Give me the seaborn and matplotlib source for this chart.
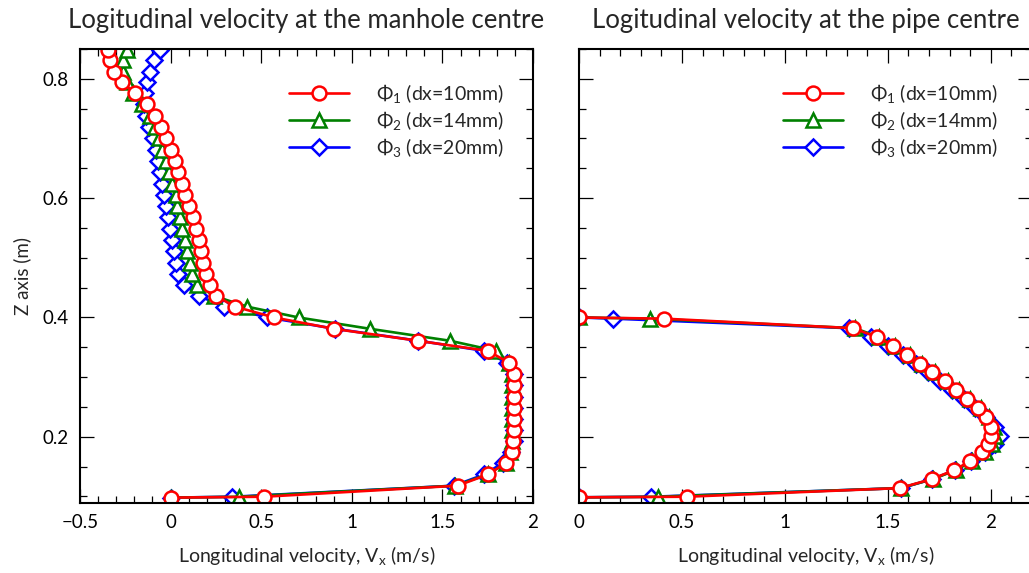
import matplotlib
matplotlib.use("Agg")
import matplotlib.pyplot as plt
import seaborn as sns
from matplotlib.ticker import MultipleLocator, FuncFormatter

# ---------------------------------------------------------------------------
# Data: vertical profiles of longitudinal velocity Vx (m/s) against height Z (m)
# ---------------------------------------------------------------------------
series_names = ["Φ$_1$ (dx=10mm)", "Φ$_2$ (dx=14mm)", "Φ$_3$ (dx=20mm)"]
series_colors = ["#ff0000", "#008000", "#0000ff"]
series_markers = ["o", "^", "D"]

# Manhole centre
z_manhole = [0.098, 0.0995, 0.118, 0.137, 0.156, 0.174, 0.193, 0.211, 0.229,
             0.249, 0.267, 0.286, 0.305, 0.324, 0.344, 0.361, 0.381, 0.400,
             0.418, 0.436, 0.455, 0.473, 0.492, 0.511, 0.530, 0.549, 0.568,
             0.587, 0.605, 0.624, 0.643, 0.662, 0.681, 0.700, 0.719, 0.738,
             0.757, 0.776, 0.795, 0.811, 0.831, 0.849, 0.868]
vx_manhole_phi1 = [0.0, 0.516, 1.584, 1.753, 1.850, 1.882, 1.888, 1.893, 1.893,
                   1.893, 1.893, 1.893, 1.893, 1.870, 1.750, 1.363, 0.900, 0.571,
                   0.357, 0.250, 0.217, 0.195, 0.181, 0.166, 0.155, 0.138, 0.122,
                   0.101, 0.081, 0.062, 0.040, 0.022, 0.000, -0.024, -0.051, -0.085,
                   -0.133, -0.199, -0.267, -0.313, -0.335, -0.344, -0.350]
vx_manhole_phi2 = [0.0, 0.377, 1.570, 1.750, 1.850, 1.875, 1.883, 1.884, 1.884,
                   1.884, 1.884, 1.884, 1.883, 1.870, 1.796, 1.541, 1.100, 0.706,
                   0.424, 0.240, 0.147, 0.120, 0.107, 0.092, 0.077, 0.064, 0.052,
                   0.037, 0.028, 0.009, -0.009, -0.028, -0.046, -0.065, -0.085, -0.115,
                   -0.160, -0.205, -0.240, -0.260, -0.262, -0.242, -0.220]
vx_manhole_phi3 = [0.0, 0.341, 1.565, 1.731, 1.833, 1.880, 1.895, 1.896, 1.896,
                   1.896, 1.896, 1.896, 1.895, 1.856, 1.731, 1.368, 0.908, 0.534,
                   0.295, 0.157, 0.074, 0.040, 0.028, 0.017, 0.006, -0.006, -0.017,
                   -0.028, -0.035, -0.048, -0.060, -0.072, -0.083, -0.098, -0.118, -0.135,
                   -0.148, -0.142, -0.130, -0.115, -0.090, -0.058, -0.030]

# Pipe centre
z_pipe = [0.0985, 0.0995, 0.114, 0.129, 0.144, 0.159, 0.174, 0.188, 0.202, 0.217,
          0.233, 0.248, 0.264, 0.279, 0.293, 0.308, 0.322, 0.337, 0.353, 0.367,
          0.382, 0.398, 0.400]
vx_pipe_phi1 = [0.0, 0.523, 1.558, 1.712, 1.822, 1.898, 1.958, 1.987, 2.003, 2.000,
                1.979, 1.938, 1.885, 1.833, 1.777, 1.715, 1.655, 1.594, 1.523, 1.448,
                1.332, 0.414, 0.0]
vx_pipe_phi2 = [0.0, 0.385, 1.562, 1.718, 1.830, 1.908, 1.970, 2.005, 2.022, 2.015,
                1.992, 1.950, 1.898, 1.846, 1.790, 1.728, 1.668, 1.606, 1.535, 1.458,
                1.340, 0.345, 0.0]
vx_pipe_phi3 = [0.0, 0.350, 1.566, 1.715, 1.825, 1.906, 1.970, 2.020, 2.044, 2.020,
                1.975, 1.925, 1.868, 1.812, 1.755, 1.695, 1.635, 1.572, 1.500, 1.420,
                1.312, 0.167, 0.0]

panel_titles = ["Logitudinal velocity at the manhole centre",
                "Logitudinal velocity at the pipe centre"]
x_label = "Longitudinal velocity, V$_\\mathrm{x}$ (m/s)"
y_label = "Z axis (m)"

# ---------------------------------------------------------------------------
# Style
# ---------------------------------------------------------------------------
sns.set_theme(style="ticks")
FONT = "Lato"
plt.rcParams["font.family"] = [FONT, "DejaVu Sans"]
plt.rcParams["mathtext.fontset"] = "custom"
plt.rcParams["mathtext.rm"] = FONT
plt.rcParams["mathtext.it"] = FONT + ":italic"
plt.rcParams["mathtext.bf"] = FONT + ":bold"

W, H = 1029, 573
fig = plt.figure(figsize=(W / 100, H / 100), dpi=100)
ax_l = fig.add_axes([80 / W, 70 / H, 453 / W, 454 / H])
ax_r = fig.add_axes([579 / W, 70 / H, 453 / W, 454 / H])

marker_sizes = {"o": 10, "^": 9.5, "D": 8.4}


def draw_panel(ax, z, profiles):
    # coarse resolutions first so the finest one sits on top
    handles = {}
    for name, color, marker, vx in reversed(list(zip(series_names, series_colors,
                                                     series_markers, profiles))):
        sns.lineplot(x=vx, y=z, ax=ax, sort=False, estimator=None,
                     color=color, linewidth=1.9, marker=marker,
                     markersize=marker_sizes[marker], markerfacecolor="white",
                     markeredgecolor=color, markeredgewidth=1.8, label=name)
        handles[name] = ax.lines[-1]
    return [handles[n] for n in series_names]


h_l = draw_panel(ax_l, z_manhole, [vx_manhole_phi1, vx_manhole_phi2, vx_manhole_phi3])
h_r = draw_panel(ax_r, z_pipe, [vx_pipe_phi1, vx_pipe_phi2, vx_pipe_phi3])

ax_l.set_xlim(-0.5, 2.0)
ax_r.set_xlim(0.0, 2.2)
for ax in (ax_l, ax_r):
    ax.set_ylim(0.089, 0.850)
    ax.xaxis.set_major_locator(MultipleLocator(0.5))
    ax.xaxis.set_minor_locator(MultipleLocator(0.1))
    ax.yaxis.set_major_locator(MultipleLocator(0.2))
    ax.yaxis.set_minor_locator(MultipleLocator(0.05))
    ax.tick_params(which="both", direction="in", top=True, right=True,
                   color="black", labelcolor="black")
    ax.tick_params(which="major", length=10, width=0.9, labelsize=13.5, pad=8)
    ax.tick_params(which="minor", length=5, width=0.9)
    for sp in ax.spines.values():
        sp.set_linewidth(1.5)
        sp.set_color("black")
    ax.set_xlabel(x_label, fontsize=14, labelpad=9)

ax_l.xaxis.set_major_formatter(FuncFormatter(
    lambda v, p: ("%g" % v).replace("-", "\u2212")))
ax_r.xaxis.set_major_formatter(FuncFormatter(lambda v, p: "%g" % v))
ax_l.yaxis.set_major_formatter(FuncFormatter(lambda v, p: "%g" % v))
ax_r.tick_params(axis="y", which="both", labelleft=False)
ax_l.set_ylabel(y_label, fontsize=13.5, labelpad=8)
ax_r.set_ylabel("")

for ax, title in zip((ax_l, ax_r), panel_titles):
    ax.set_title(title, fontsize=18.5, pad=15)

for ax, hnd, x0 in ((ax_l, h_l, 0.461), (ax_r, h_r, 0.45)):
    ax.legend(handles=hnd, labels=series_names, loc="upper left",
              bbox_to_anchor=(x0, 0.927), frameon=False, fontsize=14,
              handlelength=3.1, handletextpad=1.4, labelspacing=0.2,
              borderpad=0, borderaxespad=0)

fig.savefig("out.png", dpi=100)
